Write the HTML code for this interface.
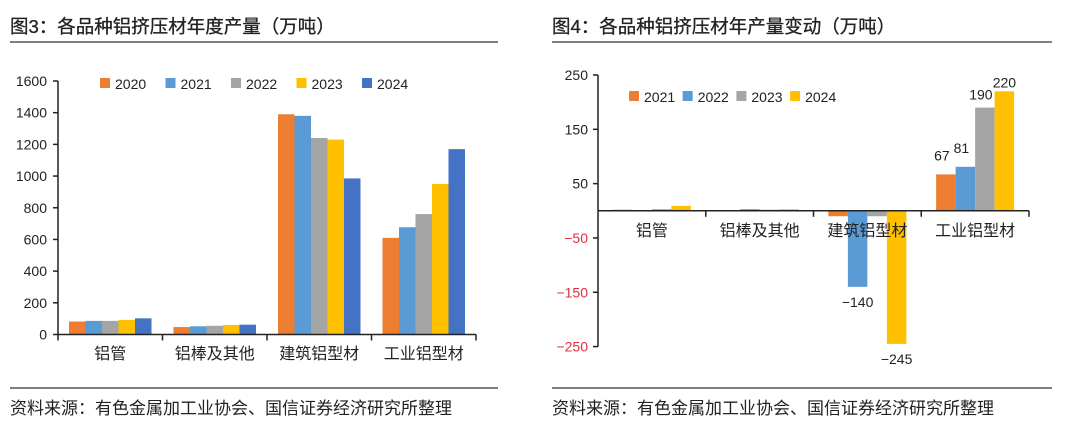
<!DOCTYPE html>
<html><head><meta charset="utf-8">
<style>
body{margin:0;background:#fff;width:1080px;height:428px;overflow:hidden;font-family:"Liberation Sans","Noto Sans CJK SC",sans-serif;}
svg text{font-family:"Liberation Sans","Noto Sans CJK SC",sans-serif;}
</style></head><body>
<svg id="svg" width="1080" height="428" xmlns="http://www.w3.org/2000/svg">
<text x="10" y="33" font-size="18.5" fill="#222" stroke="#222" stroke-width="0.3">图3：各品种铝挤压材年度产量（万吨）</text>
<line x1="10" y1="42" x2="498" y2="42" stroke="#555" stroke-width="1.5"/>
<line x1="10" y1="388" x2="498" y2="388" stroke="#555" stroke-width="1.5"/>
<text x="10" y="414" font-size="17" fill="#222">资料来源：有色金属加工业协会、国信证券经济研究所整理</text>
<text x="552" y="33" font-size="18.5" fill="#222" stroke="#222" stroke-width="0.3">图4：各品种铝挤压材年产量变动（万吨）</text>
<line x1="552" y1="42" x2="1052" y2="42" stroke="#555" stroke-width="1.5"/>
<line x1="552" y1="388" x2="1052" y2="388" stroke="#555" stroke-width="1.5"/>
<text x="552" y="414" font-size="17" fill="#222">资料来源：有色金属加工业协会、国信证券经济研究所整理</text>
<g id="left"></g><g id="right"></g>
</svg>
<script>
const categories=["铝管","铝棒及其他","建筑铝型材","工业铝型材"];
const leftYears=["2020","2021","2022","2023","2024"];
const leftColors=["#ED7D31","#5B9BD5","#A5A5A5","#FFC000","#4472C4"];
const left2020=[82,47,1390,610];
const left2021=[86,52,1380,677];
const left2022=[86,55,1240,760];
const left2023=[92,60,1230,950];
const left2024=[102,62,985,1170];
const leftTicks=[0,200,400,600,800,1000,1200,1400,1600];
const rightYears=["2021","2022","2023","2024"];
const rightColors=["#ED7D31","#5B9BD5","#A5A5A5","#FFC000"];
const right2021=[2,1,-10,67];
const right2022=[-1,3,-140,81];
const right2023=[3,2,-10,190];
const right2024=[9,3,-245,220];
const rightTicks=[250,150,50,-50,-150,-250];
const rightLabelled=[[false,false,false,true],[false,false,true,true],[false,false,false,true],[false,false,true,true]];
const NS="http://www.w3.org/2000/svg";
function mk(p,t,a){const e=document.createElementNS(NS,t);for(const k in a)e.setAttribute(k,a[k]);p.appendChild(e);return e;}

// Left chart
(function(){
const g=document.getElementById('left');
const x0=58,x1=476,yZero=334.5,yTop=81;
const y=v=>yZero-(v-0)/1600*(yZero-yTop);
const series=[left2020,left2021,left2022,left2023,left2024];
const gw=(x1-x0)/categories.length,bw=16.5;
categories.forEach((c,i)=>{
 const gx=x0+i*gw+(gw-bw*series.length)/2;
 series.forEach((s,j)=>{
  const r=mk(g,'rect',{x:gx+j*bw,y:y(s[i]),width:bw,height:yZero-y(s[i]),fill:leftColors[j]});
  
  
 });
 const t=mk(g,'text',{x:x0+(i+.5)*gw,y:359,'font-size':16,'text-anchor':'middle',fill:'#222'});t.textContent=c;
 
 
 const tk=mk(g,'line',{x1:x0+(i+1)*gw,y1:yZero,x2:x0+(i+1)*gw,y2:yZero+6,stroke:'#222','stroke-width':1.5});
 
 
});
mk(g,'line',{x1:x0,y1:yTop,x2:x0,y2:yZero+6,stroke:'#222','stroke-width':1.5});
mk(g,'line',{x1:x0,y1:yZero,x2:x1,y2:yZero,stroke:'#222','stroke-width':1.5});
leftTicks.forEach(v=>{
 mk(g,'line',{x1:x0-5,y1:y(v),x2:x0,y2:y(v),stroke:'#222','stroke-width':1.5});
 const t=mk(g,'text',{x:47,y:y(v)+5,'font-size':14,'text-anchor':'end',fill:'#222'});t.textContent=v;
 
 
});
leftYears.forEach((yr,j)=>{
 const lx=100+j*65.5;
 mk(g,'rect',{x:lx,y:78,width:10,height:10,fill:leftColors[j]});
 const t=mk(g,'text',{x:lx+15,y:89,'font-size':14,fill:'#222'});t.textContent=yr;
 
 
});
})();

// Right chart
(function(){
const g=document.getElementById('right');
const x0=598,x1=1029,yZero=210.8,yTop=75;
const y=v=>yZero-v/250*(yZero-yTop);
const series=[right2021,right2022,right2023,right2024];
const gw=(x1-x0)/categories.length,bw=19.5;
categories.forEach((c,i)=>{
 const gx=x0+i*gw+(gw-bw*series.length)/2;
 series.forEach((s,j)=>{
  const v=s[i],top=Math.min(y(v),yZero),h=Math.abs(y(v)-yZero);
  const r=mk(g,'rect',{x:gx+j*bw,y:top,width:bw,height:h,fill:rightColors[j]});
  
  
  if(rightLabelled[j][i]){
   const ly=v>=0?y(v)-(j===2?8:j===3?4:14):y(v)+20;
   const lx=gx+j*bw+bw/2-(v>=0&&j<2?4:0)-(j===2?4:0);
   const t=mk(g,'text',{x:lx,y:ly,'font-size':14,'text-anchor':'middle',fill:'#222'});t.textContent=v<0?'−'+Math.abs(v):v;
   
   
  }
 });
 const t=mk(g,'text',{x:x0+(i+.5)*gw,y:236,'font-size':16,'text-anchor':'middle',fill:'#222'});t.textContent=c;
 
 
 const tk=mk(g,'line',{x1:x0+(i+1)*gw,y1:yZero,x2:x0+(i+1)*gw,y2:yZero+6,stroke:'#222','stroke-width':1.5});
 
 
});
mk(g,'line',{x1:x0,y1:yTop,x2:x0,y2:y(-250),stroke:'#222','stroke-width':1.5});
mk(g,'line',{x1:x0,y1:yZero,x2:x1,y2:yZero,stroke:'#222','stroke-width':1.5});
rightTicks.forEach(v=>{
 mk(g,'line',{x1:x0-5,y1:y(v),x2:x0,y2:y(v),stroke:'#222','stroke-width':1.5});
 const t=mk(g,'text',{x:588,y:y(v)+5,'font-size':14,'text-anchor':'end',fill:v<0?'#E0303F':'#222'});t.textContent=v<0?'−'+Math.abs(v):v;
 
 
});
rightYears.forEach((yr,j)=>{
 const lx=629+j*53.7;
 mk(g,'rect',{x:lx,y:91,width:10,height:10,fill:rightColors[j]});
 const t=mk(g,'text',{x:lx+15,y:102,'font-size':14,fill:'#222'});t.textContent=yr;
 
 
});
})();
</script>
</body></html>
